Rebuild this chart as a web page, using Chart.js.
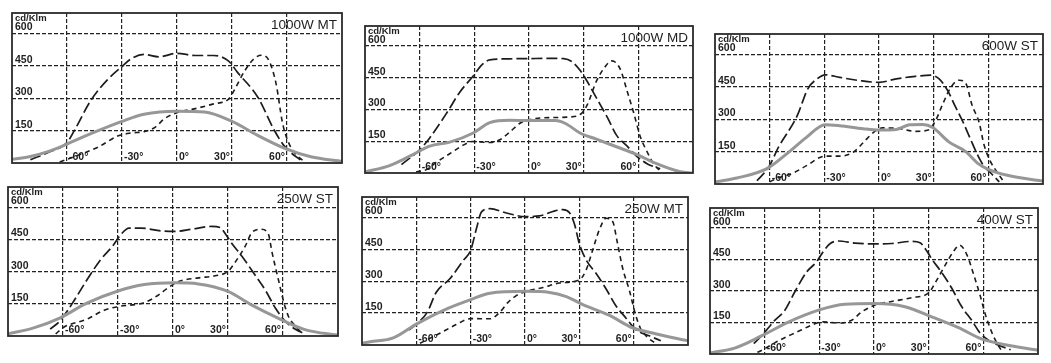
<!DOCTYPE html>
<html><head><meta charset="utf-8">
<script src="https://cdn.jsdelivr.net/npm/chart.js@4.4.1/dist/chart.umd.min.js"></script>
<style>
body{margin:0;background:#fff;width:1051px;height:363px;overflow:hidden;position:relative;font-family:"Liberation Sans",Arial,sans-serif}
canvas{position:absolute}
</style></head><body>
<script>
const titles = ['1000W MT','1000W MD','600W ST','250W ST','250W MT','400W ST'];
const angleTicks = [-60,-30,0,30,60];
const valueTicks = [150,300,450,600];
const unitLabel = 'cd/Klm';

// [angle, cd/klm]
const mt1000Gray = [[-90,17],[-80,30],[-70,54],[-61,84],[-47,136],[-30,193],[-18,226],[0,240],[15,236],[29.5,195],[44,128],[58.5,69],[73,29],[88,10],[90,8]];
const mt1000Long = [[-80,15],[-70,50],[-60,95],[-56,150],[-47,290],[-38,385],[-30,447],[-25,483],[-18,503],[-10,492],[0,508],[10,498],[20,498],[28,473],[33,420],[44,306],[53,153],[58,84],[62,49],[68,10]];
const mt1000Short = [[-64,5],[-52,42],[-43,74],[-32,126],[-25,139],[-18,145],[-12,165],[-7,204],[0,233],[11,254],[20,274],[28,295],[31,334],[37,428],[42,483],[46,499],[50,477],[54,369],[57.6,184],[61,92],[66,30],[70,5]];

const md1000Gray = [[-90,5],[-76.5,35],[-64,86],[-54.5,127],[-43.5,146],[-30.6,189],[-21.5,238],[-10.5,249],[0,248],[14.5,248],[20,234],[28,189],[37,160],[48,124],[59,88],[70,44],[83,6],[90,0]];
const md1000Long = [[-70,40],[-60,110],[-54.5,166],[-45,286],[-38,382],[-30.6,459],[-26,510],[-21.5,535],[-10.5,540],[0,541],[11.5,542],[19,541],[23.5,527],[28,486],[31,447],[37,355],[43,263],[48,179],[54,126],[59,80],[65,43],[72,20]];
const md1000Short = [[-62,5],[-56,17],[-51,50],[-43.5,91],[-36,132],[-30.6,149],[-21.5,144],[-16,157],[-10.5,194],[-5,235],[0,252],[11.5,262],[22.5,265],[29,283],[32,323],[37,434],[42,505],[45.5,530],[50,492],[54,383],[57.5,283],[61,174],[65,97],[68.5,42],[72,10]];

const st600Gray = [[-90,10],[-78,28],[-61.5,71],[-49,151],[-40,215],[-29.6,275],[-21.5,270],[-8.7,256],[0,250],[9.5,253],[16.7,274],[24,276],[29.5,262],[38.5,194],[47.6,150],[54,97],[60,68],[71,39],[88,16],[90,14]];
const st600Long = [[-67,15],[-60.5,79],[-55,173],[-45,314],[-39,442],[-34,487],[-29.6,506],[-21.5,494],[-10.5,479],[0,471],[9.5,487],[20,499],[28.5,504],[33,487],[37.6,434],[42,357],[46,289],[50,212],[54,136],[57,90],[62,45],[66,10]];
const st600Short = [[-60,10],[-56,26],[-47,51],[-40,84],[-29.6,129],[-21.5,129],[-14,148],[-8.7,191],[-3,239],[2,260],[11,257],[20,244],[27,250],[31,293],[35,371],[39.5,449],[44,481],[47.6,467],[51,367],[55,283],[57.6,183],[61,107],[65,53],[68.5,10]];

const st250Gray = [[-90,10],[-76,38],[-61.5,85],[-47,153],[-30,210],[-15.6,240],[1,248],[13.8,243],[30,208],[42,149],[57,85],[71.5,31],[86,8],[90,5]];
const st250Long = [[-67,32],[-61.5,72],[-55,151],[-47,261],[-39.5,356],[-33,419],[-28.4,474],[-24,503],[-17.4,503],[-6.4,490],[1,488],[10,498],[21,511],[25.7,506],[29,471],[32,433],[37.6,372],[45,281],[50.5,212],[56,128],[61.5,67],[67,30],[72,10]];
const st250Short = [[-64,10],[-59.6,41],[-47,78],[-37.6,120],[-30,137],[-15.6,156],[-8.3,189],[-2.8,224],[2.7,253],[13.8,271],[23,281],[30,301],[33,333],[39.4,419],[43,482],[48,498],[52,476],[54,391],[57.8,252],[60.6,152],[63,91],[67,44],[70.6,10]];

const mt250Gray = [[-90,8],[-85.5,15],[-72.7,33],[-60,98],[-45,163],[-30,213],[-19.4,243],[0,252],[13.6,247],[22.8,227],[31.9,190],[46.4,140],[59.3,81],[72,53],[87,25],[90,20]];
const mt250Long = [[-64,70],[-60,98],[-54,153],[-49,248],[-41.5,311],[-34,398],[-30,445],[-26.8,547],[-24,625],[-19.4,640],[-10.3,620],[0,603],[8,606],[15.4,627],[21,636],[24.6,621],[27.3,568],[30,476],[33.8,399],[39,339],[44.8,263],[50,187],[55.8,126],[61,74],[68.6,43],[75,20]];
const mt250Short = [[-58,8],[-54,25],[-47,55],[-38,96],[-30,124],[-19.4,123],[-14,153],[-9.4,200],[-4.8,232],[0.7,252],[10,270],[19,291],[30,306],[33.8,353],[37.4,447],[41,540],[44.8,595],[48.4,580],[51,481],[54,358],[57.6,258],[61,143],[64,74],[67.7,36],[72,8]];

const st400Gray = [[-90,5],[-76.5,28],[-61.8,86],[-47,152],[-30,210],[-16,237],[0.5,240],[17,225],[31.7,177],[46.4,125],[59,72],[72,44],[88.6,20],[90,18]];
const st400Long = [[-66,50],[-61.8,86],[-54.5,160],[-49,207],[-43.5,295],[-37,390],[-31.6,438],[-28,486],[-24,526],[-19.6,538],[-10.5,528],[0.5,524],[9.7,526],[20.7,536],[25.3,529],[29,490],[31.7,452],[37,390],[42.7,313],[48,227],[53.8,158],[58.3,99],[63,65],[68.4,42],[75,20]];
const st400Short = [[-64,8],[-60,25],[-54.5,53],[-47,86],[-40,114],[-33,142],[-28,153],[-19.6,147],[-12,162],[-6.8,200],[0.5,233],[9.7,250],[20.7,268],[30,291],[33.6,339],[39,422],[43.7,489],[47,518],[51,472],[54.7,378],[58.3,277],[61,191],[63.8,121],[66.6,66],[70,15]];

const graySeries = [mt1000Gray, md1000Gray, st600Gray, st250Gray, mt250Gray, st400Gray];
const longSeries = [mt1000Long, md1000Long, st600Long, st250Long, mt250Long, st400Long];
const shortSeries = [mt1000Short, md1000Short, st600Short, st250Short, mt250Short, st400Short];

// plot frames as they sit on the scan: left, top, width, height
const boxes = [[12,13,330,150],[365,26,328,147],[715,34,328,150],[8,187,330,149],[362,197,326,148],[710,208,328,146]];
const PAD = 2;
const FONT = '"Liberation Sans", Arial, sans-serif';

const toPts = arr => arr.map(p => ({x:p[0], y:p[1]}));

const framePlugin = {
  id:'frame',
  afterDraw(chart, args, opts){
    const {ctx, chartArea:a} = chart;
    const x = chart.scales.x;
    ctx.save();
    ctx.strokeStyle = '#2a2a2a'; ctx.lineWidth = 1.8;
    ctx.strokeRect(a.left, a.top, a.right-a.left, a.bottom-a.top);
    ctx.fillStyle = '#1e1e1e';
    ctx.font = 'bold 9.5px ' + FONT;
    ctx.textBaseline = 'top'; ctx.textAlign = 'left';
    ctx.fillText(unitLabel, a.left+3, a.top+0.5);
    ctx.font = '13.5px ' + FONT;
    ctx.textAlign = 'right';
    ctx.fillText(opts.title, a.right-5, a.top+6);
    ctx.font = 'bold 10.5px ' + FONT;
    ctx.textBaseline = 'bottom';
    angleTicks.forEach(v => {
      const px = x.getPixelForValue(v);
      ctx.textAlign = v > 0 ? 'right' : 'left';
      ctx.fillText(v + '°', v > 0 ? px-2 : px+2, a.bottom-1);
    });
    ctx.restore();
  }
};

function makePanel(i){
  const [l,t,w,h] = boxes[i];
  const cv = document.createElement('canvas');
  cv.width = w + PAD*2; cv.height = h + PAD*2;
  cv.style.left = (l-PAD)+'px'; cv.style.top = (t-PAD)+'px';
  document.body.appendChild(cv);
  const line = { pointRadius:0, fill:false, cubicInterpolationMode:'monotone' };
  new Chart(cv, {
    type:'line',
    data:{ datasets:[
      { ...line, data:toPts(graySeries[i]), borderColor:'#979797', borderWidth:3 },
      { ...line, data:toPts(longSeries[i]), borderColor:'#1c1c1c', borderWidth:1.7, borderDash:[11,4] },
      { ...line, data:toPts(shortSeries[i]), borderColor:'#1c1c1c', borderWidth:1.6, borderDash:[5,4] }
    ]},
    options:{
      responsive:false, animation:false,
      layout:{ padding:PAD },
      plugins:{ legend:{display:false}, tooltip:{enabled:false}, frame:{ title:titles[i] } },
      scales:{
        x:{ type:'linear', min:-90, max:90,
            afterBuildTicks: s => { s.ticks = angleTicks.map(v => ({value:v})); },
            afterFit: s => { s.height = 0; s.paddingLeft = 0; s.paddingRight = 0; },
            ticks:{ display:false },
            grid:{ color:'#222', lineWidth:1.2, drawTicks:false },
            border:{ display:false, dash:[4,2] } },
        y:{ min:0, max:695,
            afterBuildTicks: s => { s.ticks = valueTicks.map(v => ({value:v})); },
            afterFit: s => { s.width = 0; s.paddingTop = 0; s.paddingBottom = 0; },
            ticks:{ mirror:true, padding:3, labelOffset:-6, color:'#1e1e1e', font:{ size:10.5, weight:'bold', family:FONT } },
            grid:{ color:'#222', lineWidth:1.2, drawTicks:false },
            border:{ display:false, dash:[4,2] } }
      }
    },
    plugins:[framePlugin]
  });
}

titles.forEach((_, i) => makePanel(i));
</script>
</body></html>
